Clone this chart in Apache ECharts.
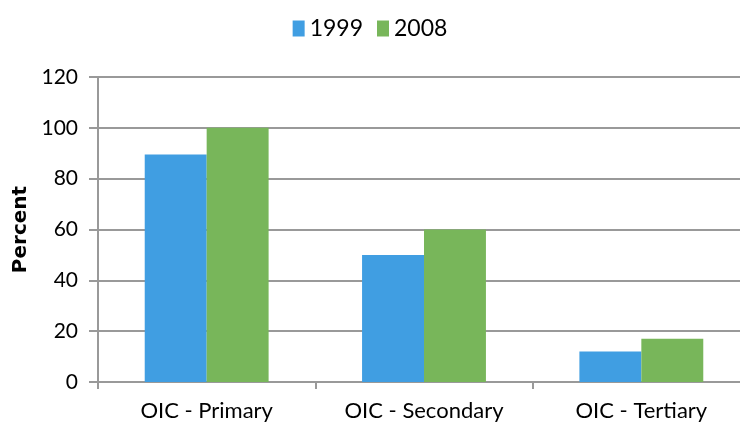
<!DOCTYPE html>
<html>
<head>
<meta charset="utf-8">
<script src="https://cdn.jsdelivr.net/npm/echarts@6/dist/echarts.min.js"></script>
<style>
  html, body { margin: 0; padding: 0; background: #fff; }
  #chart { width: 740px; height: 423px; }
</style>
</head>
<body>
<div id="chart"></div>
<script>
const categories = ['OIC - Primary', 'OIC - Secondary', 'OIC - Tertiary'];
const values1999 = [89.5, 50, 12];
const values2008 = [100, 60, 17];
const yTicks = { min: 0, max: 120, interval: 20 };

const font = 'Lato, "Open Sans", sans-serif';
const gridColor = '#999999';

const chart = echarts.init(document.getElementById('chart'));
chart.setOption({
  animation: false,
  textStyle: { fontFamily: font },
  legend: {
    top: 12,
    left: 'center',
    itemWidth: 12,
    itemHeight: 16,
    itemGap: 14,
    icon: 'rect',
    textStyle: { fontSize: 23, color: '#000', fontFamily: font },
    data: ['1999', '2008']
  },
  grid: {
    top: 77,
    left: 98,
    width: 652,
    bottom: 41,
    // plot runs past the right edge in the original
    outerBoundsMode: 'none'
  },
  xAxis: {
    type: 'category',
    data: categories,
    axisLine: { show: true, lineStyle: { color: gridColor, width: 2 } },
    axisTick: { show: true, length: 7, lineStyle: { color: gridColor, width: 2 } },
    axisLabel: { color: '#000', fontSize: 22, margin: 18, fontFamily: font }
  },
  yAxis: {
    type: 'value',
    min: yTicks.min,
    max: yTicks.max,
    interval: yTicks.interval,
    name: 'Percent',
    nameLocation: 'middle',
    nameGap: 66,
    nameTextStyle: { fontSize: 20, fontWeight: 'bold', color: '#000', fontFamily: '"DejaVu Sans", sans-serif' },
    axisLine: { show: true, lineStyle: { color: gridColor, width: 2 } },
    axisTick: { show: true, inside: false, length: 9, lineStyle: { color: gridColor, width: 2 } },
    axisLabel: { color: '#000', fontSize: 21, margin: 20, fontFamily: font },
    splitLine: { show: true, lineStyle: { color: gridColor, width: 2 } }
  },
  series: [
    {
      name: '1999',
      type: 'bar',
      data: values1999,
      barGap: '0%',
      barCategoryGap: '43%',
      itemStyle: { color: '#409EE2' }
    },
    {
      name: '2008',
      type: 'bar',
      data: values2008,
      itemStyle: { color: '#78B65A' }
    }
  ]
});
</script>
</body>
</html>
